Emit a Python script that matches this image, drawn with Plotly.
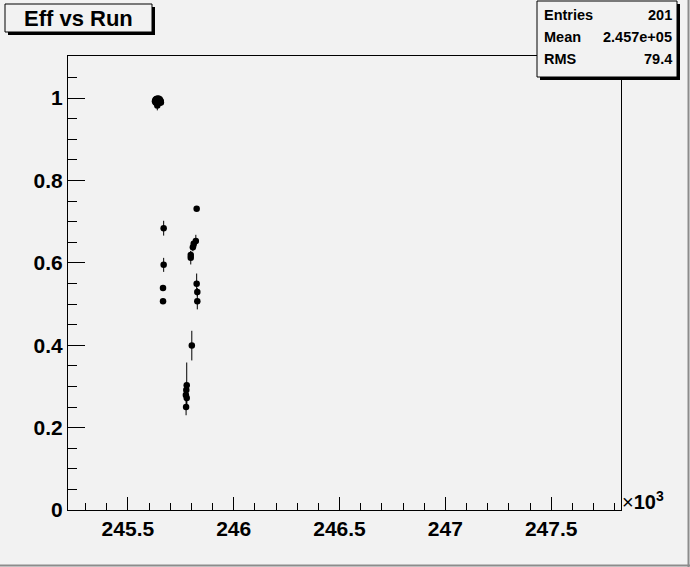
import plotly.graph_objects as go

# ---- data (run number, efficiency, error) ----
runs = [245628, 245630, 245631, 245633, 245634, 245636, 245637, 245638, 245639,
        245640, 245641, 245642, 245644, 245645, 245646, 245648, 245649, 245650,
        245652, 245653, 245655, 245656,
        245669, 245669, 245666, 245666,
        245825, 245821, 245811, 245807, 245797, 245797,
        245825, 245828, 245828,
        245802,
        245778, 245776, 245774, 245778, 245775]
eff = [0.992, 0.995, 0.989, 0.997, 0.993, 0.990, 0.998, 0.994, 0.982,
       0.987, 0.996, 0.992, 0.999, 0.991, 0.995, 0.988, 0.993, 0.997,
       0.990, 0.994, 0.992, 0.989,
       0.684, 0.595, 0.539, 0.507,
       0.731, 0.653, 0.646, 0.638, 0.619, 0.612,
       0.549, 0.529, 0.507,
       0.399,
       0.303, 0.291, 0.279, 0.272, 0.250]
err = [0.004, 0.004, 0.004, 0.004, 0.004, 0.004, 0.004, 0.004, 0.012,
       0.004, 0.004, 0.004, 0.004, 0.004, 0.004, 0.004, 0.004, 0.004,
       0.004, 0.004, 0.004, 0.004,
       0.018, 0.017, 0.006, 0.005,
       0.005, 0.015, 0.010, 0.010, 0.010, 0.016,
       0.025, 0.010, 0.020,
       0.036,
       0.055, 0.020, 0.015, 0.015, 0.020]

x_ticks = [245.5, 246, 246.5, 247, 247.5]
x_labels = ["245.5", "246", "246.5", "247", "247.5"]
y_ticks = [0, 0.2, 0.4, 0.6, 0.8, 1]
y_labels = ["0", "0.2", "0.4", "0.6", "0.8", "1"]

stats_names = ["Entries", "Mean", "RMS"]
stats_values = ["201", "2.457e+05", "79.4"]
title_text = "Eff vs Run"

# ---- geometry ----
W, H = 690, 567
L, R, T, B = 68, 621, 56, 510
BG = "#f2f2f2"
FONT = "Liberation Sans"


def px(x):
    return (x - L) / (R - L)


def py(y):
    return (B - y) / (B - T)


fig = go.Figure()
fig.add_trace(go.Scatter(
    x=[r / 1000.0 for r in runs], y=eff,
    mode="markers",
    marker=dict(color="black", size=6.5, symbol="circle"),
    error_y=dict(type="data", array=err, visible=True, color="black",
                 thickness=1, width=0),
    showlegend=False, cliponaxis=True,
))

shapes = []
annotations = []

# canvas border
shapes.append(dict(type="line", xref="paper", yref="paper",
                   x0=px(W - 1.5), x1=px(W - 1.5), y0=py(0), y1=py(H),
                   line=dict(color="#8c8c8c", width=2)))
shapes.append(dict(type="line", xref="paper", yref="paper",
                   x0=px(0), x1=px(W), y0=py(H - 1.5), y1=py(H - 1.5),
                   line=dict(color="#8c8c8c", width=2)))


def box(x0, y0, x1, y1, sh=3):
    shapes.append(dict(type="rect", xref="paper", yref="paper",
                       x0=px(x0 + sh), x1=px(x1 + sh), y0=py(y0 + sh), y1=py(y1 + sh),
                       fillcolor="black", line=dict(width=0)))
    shapes.append(dict(type="rect", xref="paper", yref="paper",
                       x0=px(x0), x1=px(x1), y0=py(y0), y1=py(y1),
                       fillcolor=BG, line=dict(color="black", width=1)))


# title box
box(5, 4, 152, 32)
annotations.append(dict(xref="paper", yref="paper", x=px(78.5), y=py(18.5),
                        text="<b>" + title_text + "</b>", showarrow=False,
                        xanchor="center", yanchor="middle",
                        font=dict(family=FONT, size=22, color="black")))

# stats box
box(537, 1, 677, 77)
for i, (n, v) in enumerate(zip(stats_names, stats_values)):
    yy = [15, 37, 59][i]
    annotations.append(dict(xref="paper", yref="paper", x=px(542), y=py(yy),
                            text="<b>" + n + "</b>", showarrow=False,
                            xanchor="left", yanchor="middle",
                            font=dict(family=FONT, size=14.5, color="black")))
    annotations.append(dict(xref="paper", yref="paper", x=px(674), y=py(yy),
                            text="<b>" + v + "</b>", showarrow=False,
                            xanchor="right", yanchor="middle",
                            font=dict(family=FONT, size=14.5, color="black")))

# x10^3 multiplier
annotations.append(dict(xref="paper", yref="paper", x=px(620), y=py(500),
                        text="×<b>10<sup>3</sup></b>", showarrow=False,
                        xanchor="left", yanchor="middle",
                        font=dict(family=FONT, size=20, color="black")))

fig.update_layout(
    width=W, height=H,
    margin=dict(l=L, r=W - R, t=T, b=H - B, pad=0),
    paper_bgcolor=BG, plot_bgcolor=BG,
    shapes=shapes, annotations=annotations,
    showlegend=False,
)
fig.update_xaxes(
    range=[245.217, 247.83], tickvals=x_ticks, ticktext=x_labels,
    ticks="inside", ticklen=13, tickcolor="black", tickwidth=1,
    minor=dict(dtick=0.1, tick0=245.5, ticks="inside", ticklen=7,
               tickcolor="black", tickwidth=1, showgrid=False),
    showline=True, linecolor="black", linewidth=1, mirror=True,
    showgrid=False, zeroline=False,
    tickfont=dict(family=FONT, size=21, color="black", weight="bold"),
)
fig.update_yaxes(
    range=[0, 1.102], tickvals=y_ticks, ticktext=y_labels,
    ticks="inside", ticklen=17, tickcolor="black", tickwidth=1,
    minor=dict(dtick=0.05, tick0=0, ticks="inside", ticklen=9,
               tickcolor="black", tickwidth=1, showgrid=False),
    showline=True, linecolor="black", linewidth=1, mirror=True,
    showgrid=False, zeroline=False,
    tickfont=dict(family=FONT, size=21, color="black", weight="bold"),
)

fig.write_html("out.html", config={"displayModeBar": False},
               post_script="document.body.style.margin='0';document.body.style.padding='0';")
